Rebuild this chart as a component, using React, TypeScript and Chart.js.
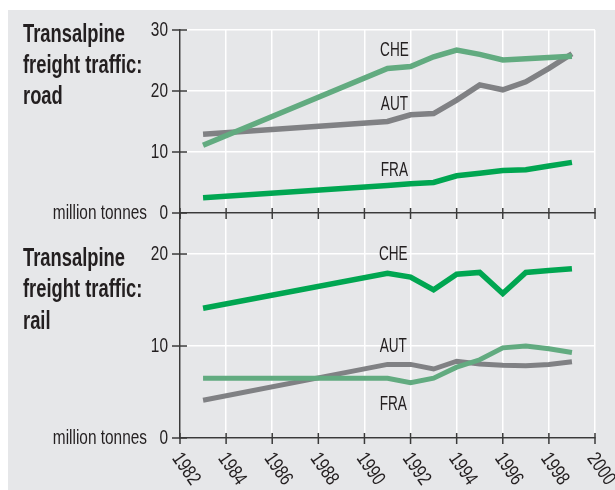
import React, { useEffect, useRef } from "react";
import { Chart, registerables } from "chart.js";

Chart.register(...registerables);

// ---------- data ----------
const years = [1983, 1991, 1992, 1993, 1994, 1995, 1996, 1997, 1998, 1999];

// road, million tonnes
const roadChe = [11.1, 23.7, 24.0, 25.6, 26.7, 26.0, 25.1, 25.3, 25.5, 25.7];
const roadAut = [12.9, 15.0, 16.1, 16.3, 18.5, 21.0, 20.2, 21.5, 23.7, 26.1];
const roadFra = [2.5, 4.5, 4.8, 5.0, 6.1, 6.5, 6.95, 7.1, 7.7, 8.3];

// rail, million tonnes
const railChe = [14.1, 17.9, 17.5, 16.1, 17.8, 18.0, 15.7, 18.0, 18.2, 18.4];
const railLight = [6.5, 6.5, 6.0, 6.5, 7.7, 8.5, 9.8, 10.0, 9.7, 9.3];
const railGrey = [4.1, 8.0, 8.0, 7.5, 8.35, 8.05, 7.9, 7.85, 8.0, 8.3];

const xTickYears = [1982, 1984, 1986, 1988, 1990, 1992, 1994, 1996, 1998, 2000];
const roadYTicks = [0, 10, 20, 30];
const railYTicks = [0, 10, 20];

const roadTitle = ["Transalpine", "freight traffic:", "road"];
const railTitle = ["Transalpine", "freight traffic:", "rail"];
const unitLabel = "million tonnes";
const roadSeriesNames = ["CHE", "AUT", "FRA"];
const railSeriesNames = ["CHE", "AUT", "FRA"];

// ---------- styles ----------
const FONT = "'Liberation Sans', Arial, sans-serif";
const BG = "#e6e7e9";
const AXIS = "#3a3a3a";
const TEXT = "#231f20";
const LIGHT_GREEN = "#62ab80";
const DARK_GREEN = "#00a651";
const GREY = "#808184";

const pts = (vals: number[]) => years.map((y, i) => ({ x: y, y: vals[i] }));

function narrowText(
  ctx: CanvasRenderingContext2D,
  text: string,
  x: number,
  y: number,
  align: CanvasTextAlign,
  sx: number
) {
  ctx.save();
  ctx.translate(x, y);
  ctx.scale(sx, 1);
  ctx.textAlign = align;
  ctx.fillText(text, 0, 0);
  ctx.restore();
}

function makeDecor(opts: {
  title: string[];
  titleBaselines: number[];
  yTicks: number[];
  names: string[];
  namePos: { x: number; y: number }[];
  rotatedLabels: boolean;
  extendAxisDown: number;
}) {
  return {
    id: "decor",
    afterDraw(chart: any) {
      const ctx = chart.ctx as CanvasRenderingContext2D;
      const xs = chart.scales.x;
      const ys = chart.scales.y;
      const ax = xs.getPixelForValue(1982);
      const ay = ys.getPixelForValue(0);
      ctx.save();
      ctx.strokeStyle = AXIS;
      ctx.lineWidth = 1.5;
      // y tick marks crossing the axis
      for (const v of opts.yTicks) {
        const y = ys.getPixelForValue(v);
        ctx.beginPath();
        ctx.moveTo(ax - 8, y);
        ctx.lineTo(ax + 7, y);
        ctx.stroke();
      }
      // x tick marks crossing the axis
      for (const v of xTickYears) {
        const x = xs.getPixelForValue(v);
        ctx.beginPath();
        ctx.moveTo(x, ay - 5);
        ctx.lineTo(x, ay + 6);
        ctx.stroke();
      }
      if (opts.extendAxisDown > 0) {
        ctx.beginPath();
        ctx.moveTo(ax, ay);
        ctx.lineTo(ax, ay + opts.extendAxisDown);
        ctx.stroke();
      }
      ctx.fillStyle = TEXT;
      ctx.font = `20px ${FONT}`;
      ctx.textBaseline = "middle";
      // y tick labels
      for (const v of opts.yTicks) {
        narrowText(ctx, String(v), ax - 12, ys.getPixelForValue(v) + 0.5, "right", 0.77);
      }
      // unit label
      narrowText(ctx, unitLabel, ax - 33, ay + 0.5, "right", 0.77);
      // series labels
      opts.names.forEach((n, i) => {
        const p = opts.namePos[i];
        narrowText(ctx, n, xs.getPixelForValue(p.x), ys.getPixelForValue(p.y), "center", 0.68);
      });
      // title
      ctx.font = `bold 25.5px ${FONT}`;
      ctx.textBaseline = "alphabetic";
      opts.title.forEach((t, i) => narrowText(ctx, t, 15, opts.titleBaselines[i], "left", 0.72));
      // rotated year labels
      if (opts.rotatedLabels) {
        ctx.font = `20px ${FONT}`;
        ctx.textBaseline = "middle";
        for (const v of xTickYears) {
          const x = xs.getPixelForValue(v);
          ctx.save();
          ctx.translate(x - 4, ay + 17);
          ctx.rotate((55 * Math.PI) / 180);
          narrowText(ctx, String(v), 0, 0, "left", 0.77);
          ctx.restore();
        }
      }
      ctx.restore();
    },
  };
}

function baseOptions(yMax: number, topPad: number, xHeight: number) {
  return {
    animation: false,
    responsive: false,
    maintainAspectRatio: false,
    devicePixelRatio: 1,
    layout: { autoPadding: false, padding: { top: topPad, right: 20, left: 0, bottom: 0 } },
    plugins: { legend: { display: false }, tooltip: { enabled: false } },
    elements: {
      point: { radius: 0 },
      line: { tension: 0, borderCapStyle: "butt", borderJoinStyle: "miter" },
    },
    scales: {
      x: {
        type: "linear",
        min: 1982,
        max: 2000,
        ticks: { stepSize: 2, display: false },
        grid: { color: "#ffffff", lineWidth: 1.5, drawTicks: false },
        border: { color: AXIS, width: 1.5 },
        afterFit: (s: any) => {
          s.height = xHeight;
        },
      },
      y: {
        type: "linear",
        min: 0,
        max: yMax,
        ticks: { stepSize: 10, includeBounds: false, display: false },
        grid: { color: "#ffffff", lineWidth: 1.5, drawTicks: false },
        border: { color: AXIS, width: 1.5 },
        afterFit: (s: any) => {
          s.width = 172;
        },
      },
    },
  };
}

export default function App() {
  const topRef = useRef<HTMLCanvasElement>(null);
  const botRef = useRef<HTMLCanvasElement>(null);

  useEffect(() => {
    const top = new Chart(topRef.current!, {
      type: "line",
      data: {
        datasets: [
          { data: pts(roadChe), borderColor: LIGHT_GREEN, borderWidth: 5.5 },
          { data: pts(roadAut), borderColor: GREY, borderWidth: 5.5 },
          { data: pts(roadFra), borderColor: DARK_GREEN, borderWidth: 5.5 },
        ],
      },
      options: baseOptions(30, 20, 12) as any,
      plugins: [
        makeDecor({
          title: roadTitle,
          titleBaselines: [32, 63, 94],
          yTicks: roadYTicks,
          names: roadSeriesNames,
          namePos: [
            { x: 1991.3, y: 26.7 },
            { x: 1991.3, y: 17.8 },
            { x: 1991.3, y: 7.0 },
          ],
          rotatedLabels: false,
          extendAxisDown: 6,
        }),
      ],
    });
    const bot = new Chart(botRef.current!, {
      type: "line",
      data: {
        datasets: [
          { data: pts(railChe), borderColor: DARK_GREEN, borderWidth: 5.5 },
          { data: pts(railLight), borderColor: LIGHT_GREEN, borderWidth: 5 },
          { data: pts(railGrey), borderColor: GREY, borderWidth: 5 },
        ],
      },
      options: baseOptions(24.35, 0, 52) as any,
      plugins: [
        makeDecor({
          title: railTitle,
          titleBaselines: [52, 83, 115],
          yTicks: railYTicks,
          names: railSeriesNames,
          namePos: [
            { x: 1991.25, y: 19.9 },
            { x: 1991.25, y: 9.95 },
            { x: 1991.25, y: 3.6 },
          ],
          rotatedLabels: true,
          extendAxisDown: 0,
        }),
      ],
    });
    return () => {
      top.destroy();
      bot.destroy();
    };
  }, []);

  return (
    <div
      style={{
        position: "absolute",
        left: 8,
        top: 10,
        width: 607,
        height: 480,
        background: BG,
        overflow: "hidden",
      }}
    >
      <canvas
        ref={botRef}
        width={607}
        height={276}
        style={{ position: "absolute", left: 0, top: 204, zIndex: 1 }}
      />
      <canvas
        ref={topRef}
        width={607}
        height={215}
        style={{ position: "absolute", left: 0, top: 0, zIndex: 2 }}
      />
    </div>
  );
}
